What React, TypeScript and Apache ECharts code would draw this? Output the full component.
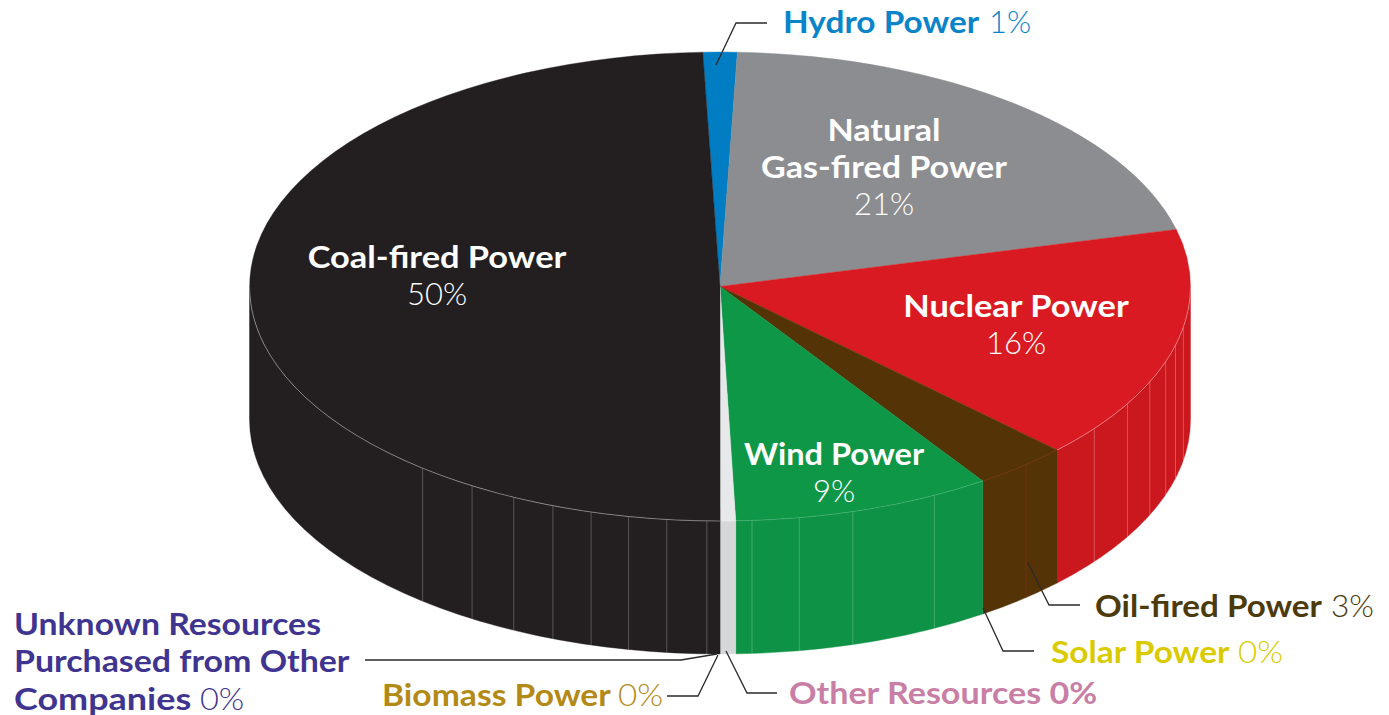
import React, { useEffect, useRef } from "react";
import * as echarts from "echarts";

const sliceNames = ["Hydro Power", "Natural Gas-fired Power", "Nuclear Power", "Oil-fired Power", "Solar Power", "Wind Power", "Other Resources", "Biomass Power", "Unknown Resources Purchased from Other Companies", "Coal-fired Power"];
const sliceValues = [1.17, 20.5, 16.2, 3.28, 0, 8.9, 0.53, 0, 0, 49.42];
const percentLabels = ["1%", "21%", "16%", "3%", "0%", "9%", "0%", "0%", "0%", "50%"];
const topColors = ["#007DC3", "#8C8D90", "#DA1A22", "#543407", "#D9CB00", "#0F9748", "#E6E8EA", "#B48A16", "#3F3590", "#231F20"];
const wallColors = ["#007DC3", "#8C8D90", "#CB171E", "#543407", "#D9CB00", "#0E9245", "#D5D7D9", "#B48A16", "#3F3590", "#231F20"];
const edgeColors = ["none", "none", "rgba(255,255,255,0.55)", "rgba(130,40,10,0.8)", "none", "rgba(255,255,255,0.22)", "rgba(255,255,255,0.3)", "none", "none", "rgba(255,255,255,0.55)"];
const facetAngles = [
  [], [], [100, 104.5, 108.7, 114, 120, 127.3], [139.4], [],
  [152.9, 163.6, 170.3, 176.1], [], [], [],
  [181.6, 186.5, 191.2, 195.9, 200.8, 206, 211.8, 219.2],
];
const facetColors = ["none", "none", "rgba(255,255,255,0.32)", "rgba(120,50,15,0.9)", "none", "rgba(255,255,255,0.28)", "none", "none", "none", "rgba(255,255,255,0.3)"];

const START_ANGLE = -2.1;
const CX = 720, CY = 286.5, RX = 470.5, RY = 234.5, DEPTH = 133;

const FONT = "Lato, 'Open Sans', sans-serif";
const WHITE = "#FFFFFF";
const BOLD = 700, LIGHT = 300;
const TEXT_SHIFT = -0.7;

const labels = [
  { x: 783, y: 22, sx: 1.077, align: "left", text: "Hydro Power", color: "#0A84C8", weight: BOLD },
  { x: 989, y: 22, sx: 1, align: "left", text: percentLabels[0], color: "#0A84C8", weight: LIGHT },
  { x: 884, y: 130, sx: 1.1, align: "center", text: "Natural", color: WHITE, weight: BOLD },
  { x: 884, y: 167, sx: 1.1, align: "center", text: "Gas-fired Power", color: WHITE, weight: BOLD },
  { x: 884, y: 204, sx: 1, align: "center", text: percentLabels[1], color: WHITE, weight: LIGHT },
  { x: 1016, y: 306, sx: 1.11, align: "center", text: "Nuclear Power", color: WHITE, weight: BOLD },
  { x: 1016, y: 343, sx: 1, align: "center", text: percentLabels[2], color: WHITE, weight: LIGHT },
  { x: 834, y: 454, sx: 1.05, align: "center", text: "Wind Power", color: WHITE, weight: BOLD },
  { x: 834, y: 491, sx: 1, align: "center", text: percentLabels[5], color: WHITE, weight: LIGHT },
  { x: 437, y: 257, sx: 1.11, align: "center", text: "Coal-fired Power", color: WHITE, weight: BOLD },
  { x: 437, y: 294, sx: 1, align: "center", text: percentLabels[9], color: WHITE, weight: LIGHT },
  { x: 1095, y: 606, sx: 1.07, align: "left", text: "Oil-fired Power", color: "#4C3A0A", weight: BOLD },
  { x: 1331, y: 606, sx: 1.02, align: "left", text: percentLabels[3], color: "#4C3A0A", weight: LIGHT },
  { x: 1051, y: 652, sx: 1.08, align: "left", text: "Solar Power", color: "#D9CB00", weight: BOLD },
  { x: 1238, y: 652, sx: 1.07, align: "left", text: percentLabels[4], color: "#D9CB00", weight: LIGHT },
  { x: 789, y: 693, sx: 1.1, align: "left", text: `Other Resources ${percentLabels[6]}`, color: "#C97FA5", weight: BOLD },
  { x: 382, y: 695, sx: 1.085, align: "left", text: "Biomass Power", color: "#B48A16", weight: BOLD },
  { x: 618, y: 695, sx: 1.07, align: "left", text: percentLabels[7], color: "#B48A16", weight: LIGHT },
  { x: 14, y: 624, sx: 1.09, align: "left", text: "Unknown Resources", color: "#3F3590", weight: BOLD },
  { x: 14, y: 661, sx: 1.094, align: "left", text: "Purchased from Other", color: "#3F3590", weight: BOLD },
  { x: 14, y: 698.5, sx: 1.16, align: "left", text: "Companies", color: "#3F3590", weight: BOLD },
  { x: 200, y: 698.5, sx: 1.05, align: "left", text: percentLabels[8], color: "#3F3590", weight: LIGHT },
];

const leaders = [
  [[716, 65], [736, 23], [767, 23]],
  [[1028, 563], [1049, 605], [1080, 605]],
  [[983, 608], [1003, 651], [1034, 651]],
  [[726, 651], [747, 693], [777, 693]],
  [[718, 655], [698, 696], [667, 696]],
  [[717, 654], [681, 660], [365, 660]],
];

const pt = (deg: number, dy = 0) => {
  const t = (deg * Math.PI) / 180;
  return [CX + RX * Math.sin(t), CY - RY * Math.cos(t) + dy];
};
const fmt = (p: number[]) => `${p[0].toFixed(2)} ${p[1].toFixed(2)}`;

function renderItem(params: any, api: any) {
  const i = params.dataIndex;
  const value = api.value(0) as number;
  let before = 0;
  for (let k = 0; k < i; k++) before += sliceValues[k];
  const a0 = START_ANGLE + before * 3.6;
  const a1 = a0 + value * 3.6;
  const children: any[] = [];
  if (value <= 0) return { type: "group", children };
  const large = a1 - a0 > 180 ? 1 : 0;
  const w0 = Math.max(a0, 90), w1 = Math.min(a1, 270);
  if (w1 > w0) {
    children.push({
      type: "path",
      shape: { pathData: `M${fmt(pt(w0))} A${RX} ${RY} 0 0 1 ${fmt(pt(w1))} L${fmt(pt(w1, DEPTH))} A${RX} ${RY} 0 0 0 ${fmt(pt(w0, DEPTH))} Z` },
      style: { fill: wallColors[i], stroke: wallColors[i], lineWidth: 0.4 },
    });
    for (const f of facetAngles[i]) {
      const p = pt(f);
      children.push({
        type: "line",
        shape: { x1: p[0], y1: p[1], x2: p[0], y2: p[1] + DEPTH },
        style: { stroke: facetColors[i], lineWidth: 0.8 },
      });
    }
  }
  children.push({
    type: "path",
    shape: { pathData: `M${CX} ${CY} L${fmt(pt(a0))} A${RX} ${RY} 0 ${large} 1 ${fmt(pt(a1))} Z` },
    style: { fill: topColors[i], stroke: topColors[i], lineWidth: 0.4 },
  });
  if (w1 > w0 && edgeColors[i] !== "none") {
    children.push({
      type: "path",
      shape: { pathData: `M${fmt(pt(w0))} A${RX} ${RY} 0 0 1 ${fmt(pt(w1))}` },
      style: { fill: "none", stroke: edgeColors[i], lineWidth: 0.7 },
    });
  }
  return { type: "group", children };
}

export default function App() {
  const ref = useRef<HTMLDivElement>(null);
  useEffect(() => {
    document.body.style.margin = "0";
    const chart = echarts.init(ref.current!, undefined, { renderer: "svg" });
    chart.setOption({
      animation: false,
      backgroundColor: "#FFFFFF",
      series: [{
        type: "custom",
        coordinateSystem: "none",
        silent: true,
        clip: false,
        data: sliceNames.map((name, i) => ({ name, value: [sliceValues[i]] })),
        renderItem,
      }],
      graphic: [
        ...leaders.map((points) => ({
          type: "polyline", z: 20, shape: { points },
          style: { fill: "none", stroke: "#2B2A29", lineWidth: 1.3 },
        })),
        ...labels.map((l) => ({
          type: "text", z: 30, x: l.x, y: l.y + TEXT_SHIFT, scaleX: l.sx,
          style: {
            text: l.text, align: l.align, verticalAlign: "middle", fill: l.color,
            fontFamily: FONT, fontSize: 31, fontWeight: l.weight,
          },
        })),
      ],
    });
    return () => chart.dispose();
  }, []);
  return <div ref={ref} style={{ width: 1389, height: 715 }} />;
}
